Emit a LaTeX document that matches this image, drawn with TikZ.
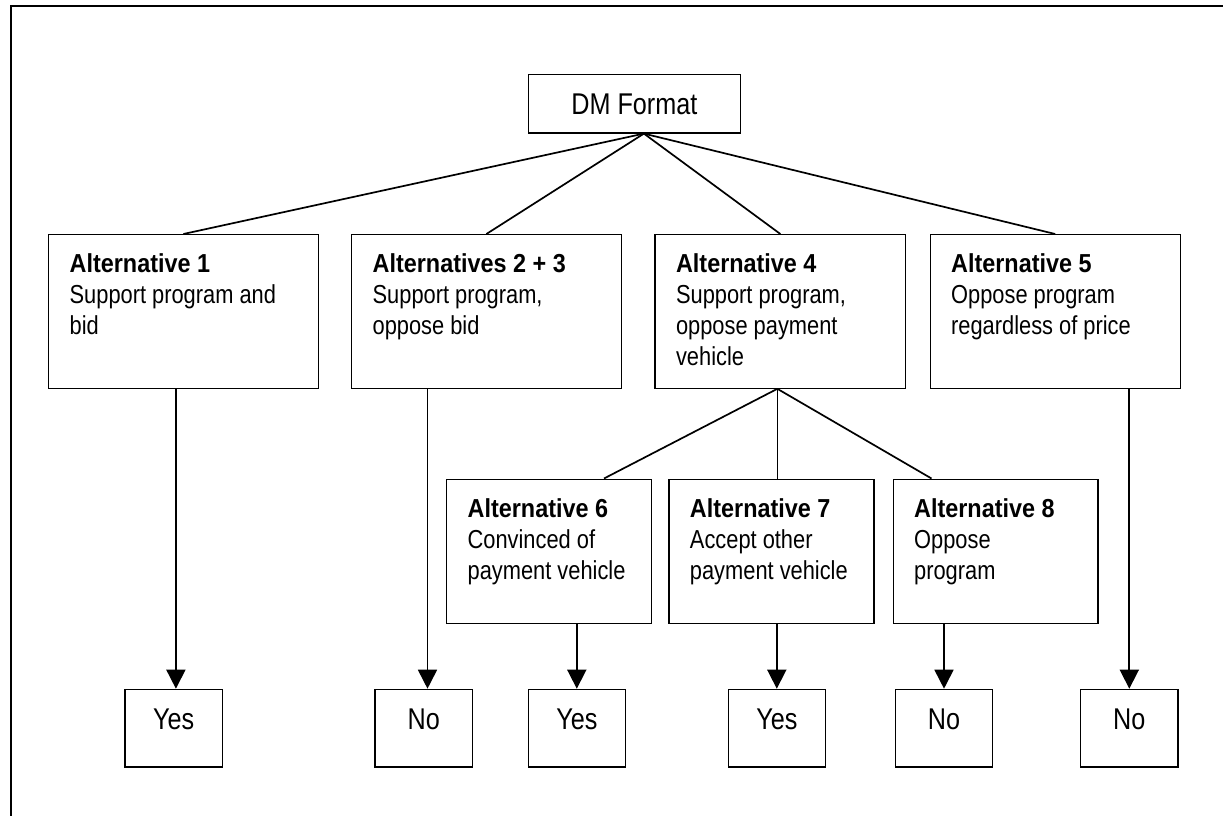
\documentclass[tikz,border=0pt]{standalone}
\usepackage{fontspec}
\setmainfont{Liberation Sans}[FakeStretch=0.84, BoldFeatures={FakeStretch=0.9}]
\usetikzlibrary{arrows.meta}
\tikzset{
  box/.style={draw, line width=1.3pt, inner sep=0pt, anchor=north west},
  link/.style={line width=1.7pt},
  arr/.style={line width=1.7pt, -{Triangle[width=19pt,length=19pt]}},
}
% decision box: width, height, bold title, description lines
\newcommand\altbox[4]{\parbox[t][#2][t]{#1}{\fontsize{26}{31}\selectfont\raggedright\leftskip=21pt\relax\rule{0pt}{38pt}\textbf{#3}\\#4}}
% outcome box (Yes / No)
\newcommand\outcomebox[1]{\parbox[t][77.6pt][t]{97.3pt}{\fontsize{30}{36}\selectfont\centering\rule{0pt}{40pt}#1}}
\begin{document}
\begin{tikzpicture}[x=1pt,y=-1pt]
\useasboundingbox (0,0) rectangle (1223,816);
\clip (0,0) rectangle (1223,816);
\fill[white] (0,0) rectangle (1223,816);
% page frame
\draw[line width=2pt] (11,6) rectangle (1260,850);

% root
\node[box] (dm) at (527.5,74) {\parbox[t][58.3pt][t]{212.5pt}{\fontsize{30}{36}\selectfont\centering\rule{0pt}{40.3pt}DM Format}};

% first level
\node[box] (a1)  at (48,234)    {\altbox{269.5pt}{153.5pt}{Alternative 1}{Support program and\\bid}};
\node[box] (a23) at (351,234)   {\altbox{269.5pt}{153.5pt}{Alternatives 2 + 3}{Support program,\\oppose bid}};
\node[box] (a4)  at (654.4,234) {\altbox{250.6pt}{153.5pt}{Alternative 4}{Support program,\\oppose payment\\vehicle}};
\node[box] (a5)  at (929.5,234) {\altbox{250pt}{153.5pt}{Alternative 5}{Oppose program\\regardless of price}};

% second level
\node[box] (a6) at (446,478.5)   {\altbox{204.7pt}{144pt}{Alternative 6}{Convinced of\\payment vehicle}};
\node[box] (a7) at (668.3,478.5) {\altbox{205pt}{144pt}{Alternative 7}{Accept other\\payment vehicle}};
\node[box] (a8) at (892.5,478.5) {\altbox{204.7pt}{144pt}{Alternative 8}{Oppose\\program}};

% outcomes
\node[box] (e1)  at (124.3,688.7) {\outcomebox{Yes}};
\node[box] (e23) at (374.4,688.7) {\outcomebox{No}};
\node[box] (e6)  at (527.5,688.7) {\outcomebox{Yes}};
\node[box] (e7)  at (727.5,688.7) {\outcomebox{Yes}};
\node[box] (e8)  at (894.7,688.7) {\outcomebox{No}};
\node[box] (e5)  at (1080,688.7)  {\outcomebox{No}};

% branches from the root
\coordinate (dmfoot) at ([xshift=9.5pt]dm.south);
\draw[link] (dmfoot) -- (a1.north);
\draw[link] (dmfoot) -- (a23.north);
\draw[link] (dmfoot) -- (a4.north);
\draw[link] (dmfoot) -- (a5.north);

% branches from alternative 4
\coordinate (a4foot) at ([xshift=-3pt]a4.south);
\draw[link] (a4foot) -- ([xshift=55pt]a6.north);
\draw[link] (a4foot) -- ([xshift=5.9pt]a7.north);
\draw[link] (a4foot) -- ([xshift=-64pt]a8.north);

% outcome arrows
\coordinate (e1top) at ([xshift=2.3pt]e1.north);
\coordinate (e23top) at ([xshift=3.8pt]e23.north);
\draw[arr] (a1.south -| e1top) -- (e1top);
\draw[arr] (a23.south -| e23top) -- (e23top);
\draw[arr] (a6.south -| e6.north) -- (e6.north);
\draw[arr] (a7.south -| e7.north) -- (e7.north);
\draw[arr] (a8.south -| e8.north) -- (e8.north);
\draw[arr] (a5.south -| e5.north) -- (e5.north);
\end{tikzpicture}
\end{document}
